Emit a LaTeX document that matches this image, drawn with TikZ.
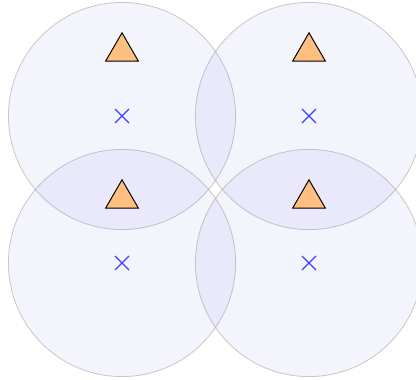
\documentclass[tikz,border=0pt]{standalone}

\definecolor{zonefill}{RGB}{110,110,230}

\tikzset{
    coverage/.style={draw=gray, draw opacity=0.4, fill=zonefill, fill opacity=0.08, line width=0.6pt},
    station/.style={draw=black, fill=orange!50, line width=0.7pt, line join=miter},
    target/.style={draw=blue!75, line width=0.8pt}
}

\begin{document}
\begin{tikzpicture}
    \useasboundingbox (0,0) rectangle (10.4,-9.475);
    \clip (0,0) rectangle (10.4,-9.475);

    % Зоны покрытия
    \foreach \cx/\cy [count=\i] in {3.05/-2.9, 7.725/-2.9, 3.05/-6.575, 7.725/-6.575} {
        \coordinate (c\i) at (\cx,\cy);
        \draw[coverage] (c\i) circle (2.84);
    }

    % Станции и центры зон
    \foreach \i in {1,...,4} {
        \draw[station, shift={(c\i)}] (-0.41,1.37) -- (0.41,1.37) -- (0,2.08) -- cycle;
        \draw[target, shift={(c\i)}] (-0.175,-0.175) -- (0.175,0.175)
            (-0.175,0.175) -- (0.175,-0.175);
    }
\end{tikzpicture}
\end{document}
